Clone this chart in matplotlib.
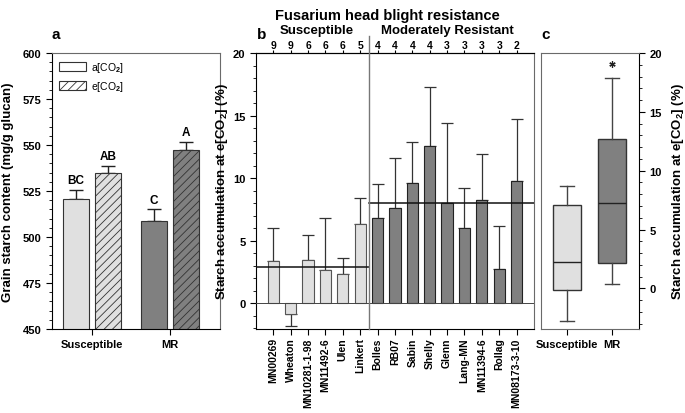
import numpy as np
import matplotlib
matplotlib.use("Agg")
import matplotlib.pyplot as plt
from matplotlib.ticker import MultipleLocator
from matplotlib.patches import Patch

plt.rcParams['font.family'] = ['Liberation Sans', 'DejaVu Sans']
plt.rcParams['font.weight'] = 'bold'
plt.rcParams['axes.labelweight'] = 'bold'
plt.rcParams['mathtext.fontset'] = 'custom'
plt.rcParams['mathtext.rm'] = 'Liberation Sans'
plt.rcParams['mathtext.bf'] = 'Liberation Sans:bold'
plt.rcParams['mathtext.default'] = 'bf'
plt.rcParams['hatch.linewidth'] = 0.6

# panel a: grain starch content
groups = ['Susceptible', 'MR']
starch_amb = [520.6, 508.9]
starch_amb_se = [4.9, 6.2]
starch_elev = [535.0, 547.4]
starch_elev_se = [3.7, 4.2]
letters_amb = ['BC', 'C']
letters_elev = ['AB', 'A']

# panel b: starch accumulation per cultivar
cultivars = ['MN00269', 'Wheaton', 'MN10281-1-98', 'MN11492-6', 'Ulen', 'Linkert',
             'Bolles', 'RB07', 'Sabin', 'Shelly', 'Glenn', 'Lang-MN', 'MN11394-6',
             'Rollag', 'MN08173-3-10']
accum = [3.4, -0.85, 3.45, 2.7, 2.35, 6.35,
         6.85, 7.65, 9.65, 12.55, 8.0, 6.0, 8.25, 2.75, 9.75]
accum_err = [2.65, 0.95, 2.0, 4.15, 1.3, 2.1,
             2.65, 3.95, 3.25, 4.75, 6.4, 3.2, 3.65, 3.45, 5.0]
n_obs = [9, 9, 6, 6, 6, 5, 4, 4, 4, 4, 3, 3, 3, 3, 2]
n_susc = 6
mean_susc = 2.92
mean_mr = 8.02

# panel c: box summary
box_names = ['Susceptible', 'MR']
box_med = [2.23, 7.25]
box_q1 = [-0.1, 2.14]
box_q3 = [7.1, 12.66]
box_lo = [-2.74, 0.37]
box_hi = [8.7, 17.9]
box_out = [[], [19.1]]

light = '#e0e0e0'
dark = '#808080'
frame = '#6a6a6a'

fig = plt.figure(figsize=(6.85, 4.14), dpi=100)
ax_a = fig.add_axes([0.0759, 0.2029, 0.2453, 0.6667])
ax_b = fig.add_axes([0.3737, 0.2029, 0.4058, 0.6667])
ax_c = fig.add_axes([0.7898, 0.2029, 0.1431, 0.6667])

# ---- panel a
x = np.arange(len(groups))
off, w = 0.205, 0.335
cols = [light, dark]
ax_a.errorbar(x - off, starch_amb, yerr=[np.zeros(2), starch_amb_se], fmt='none',
              ecolor='#222222', elinewidth=1, capsize=5, capthick=1, zorder=1)
ax_a.errorbar(x + off, starch_elev, yerr=[np.zeros(2), starch_elev_se], fmt='none',
              ecolor='#222222', elinewidth=1, capsize=5, capthick=1, zorder=1)
ax_a.bar(x - off, starch_amb, w, color=cols, edgecolor='#333333', linewidth=0.8, zorder=2)
ax_a.bar(x + off, starch_elev, w, color=cols, edgecolor='#333333', linewidth=0.8,
         hatch='////', zorder=2)
for i in range(len(groups)):
    ax_a.text(x[i] - off, starch_amb[i] + starch_amb_se[i] + 2, letters_amb[i],
              ha='center', va='bottom', fontsize=8.5)
    ax_a.text(x[i] + off, starch_elev[i] + starch_elev_se[i] + 2, letters_elev[i],
              ha='center', va='bottom', fontsize=8.5)
ax_a.set_xlim(-0.51, 1.64)
ax_a.set_ylim(450, 600)
ax_a.set_xticks(x, groups, fontsize=8)
ax_a.yaxis.set_major_locator(MultipleLocator(25))
ax_a.yaxis.set_minor_locator(MultipleLocator(5))
ax_a.tick_params(axis='y', labelsize=8)
ax_a.tick_params(which='major', length=4, width=0.8)
ax_a.tick_params(which='minor', length=2, width=0.6)
ax_a.set_ylabel('Grain starch content (mg/g glucan)', fontsize=9.5, labelpad=6)
for s in ['top', 'right']:
    ax_a.spines[s].set_color(frame)
leg_handles = [Patch(facecolor='white', edgecolor='#333333', linewidth=0.8),
               Patch(facecolor='white', edgecolor='#333333', linewidth=0.8, hatch='////')]
ax_a.legend(leg_handles, [r'a[CO$_{\mathrm{2}}$]', r'e[CO$_{\mathrm{2}}$]'],
            loc='upper left', frameon=False, handlelength=2.6, handleheight=0.9,
            prop={'weight': 'normal', 'size': 7.5}, borderaxespad=0.3,
            labelspacing=0.45, handletextpad=0.4)
ax_a.text(0.0, 1.045, 'a', transform=ax_a.transAxes, fontsize=11, va='bottom')

# ---- panel b
pos = np.arange(1, len(cultivars) + 1)
bar_cols = [light] * n_susc + [dark] * (len(cultivars) - n_susc)
edge_cols = ['#555555'] * n_susc + ['#222222'] * (len(cultivars) - n_susc)
acc = np.array(accum)
err = np.array(accum_err)
lower = np.where(acc < 0, err, 0)
upper = np.where(acc < 0, 0, err)
ax_b.errorbar(pos, acc, yerr=[lower, upper], fmt='none', ecolor='#333333',
              elinewidth=0.9, capsize=4, capthick=0.9, zorder=1)
ax_b.bar(pos, acc, 0.65, color=bar_cols, edgecolor=edge_cols, linewidth=0.8, zorder=2)
ax_b.axhline(0, color='#444444', lw=0.7, zorder=3)
split = n_susc + 0.5
ax_b.plot([0, split], [mean_susc, mean_susc], color='#111111', lw=1.1, zorder=4)
ax_b.plot([split, len(cultivars) + 1], [mean_mr, mean_mr], color='#111111', lw=1.1, zorder=4)
ax_b.axvline(split, ymin=0, ymax=1.06, color='#777777', lw=1.0, clip_on=False, zorder=4)
ax_b.set_xlim(0, len(cultivars) + 1)
ax_b.set_ylim(-2.05, 20)
ax_b.set_xticks(pos, cultivars, rotation=90, fontsize=7.5)
ax_b.tick_params(axis='x', pad=2)
ax_b.yaxis.set_major_locator(MultipleLocator(5))
ax_b.yaxis.set_minor_locator(MultipleLocator(1))
ax_b.tick_params(axis='y', labelsize=8)
ax_b.tick_params(which='major', length=4, width=0.8)
ax_b.tick_params(which='minor', length=2, width=0.6)
ax_b.spines['right'].set_color(frame)
ax_b.set_ylabel(r'Starch accumulation at e[CO$_2$] (%)', fontsize=9.5, labelpad=2)
top = ax_b.secondary_xaxis('top')
top.set_xticks(pos, [str(n) for n in n_obs], fontsize=7.5)
top.tick_params(length=2, width=0.8, pad=0.5)
ax_b.text((1 + n_susc) / 2, 1.085, 'Susceptible', transform=ax_b.get_xaxis_transform(),
          ha='center', va='center', fontsize=9.5)
ax_b.text((n_susc + 1 + len(cultivars)) / 2, 1.085, 'Moderately Resistant',
          transform=ax_b.get_xaxis_transform(), ha='center', va='center', fontsize=9.5)
ax_b.text(0.005, 1.045, 'b', transform=ax_b.transAxes, fontsize=11, va='bottom')

# ---- panel c
stats = []
for i in range(len(box_names)):
    stats.append(dict(med=box_med[i], q1=box_q1[i], q3=box_q3[i],
                      whislo=box_lo[i], whishi=box_hi[i], fliers=box_out[i]))
bp = ax_c.bxp(stats, positions=[1, 2], widths=0.62, patch_artist=True,
              medianprops=dict(color='#222222', lw=1),
              whiskerprops=dict(color='#444444', lw=1),
              capprops=dict(color='#444444', lw=1),
              boxprops=dict(edgecolor='#333333', lw=1),
              flierprops=dict(marker=(6, 2, 0), markersize=4.5, markeredgecolor='#222222',
                              markeredgewidth=0.9, markerfacecolor='#222222'),
              capwidths=0.3)
for patch, c in zip(bp['boxes'], [light, dark]):
    patch.set_facecolor(c)
ax_c.set_xlim(0.42, 2.6)
ax_c.set_ylim(-3.45, 20)
ax_c.set_xticks([1, 2], box_names, fontsize=8)
ax_c.yaxis.tick_right()
ax_c.yaxis.set_label_position('right')
ax_c.yaxis.set_major_locator(MultipleLocator(5))
ax_c.yaxis.set_minor_locator(MultipleLocator(1))
ax_c.tick_params(axis='y', labelsize=8)
ax_c.tick_params(which='major', length=4, width=0.8)
ax_c.tick_params(which='minor', length=2, width=0.6)
for s in ['top', 'left', 'bottom']:
    ax_c.spines[s].set_color(frame)
ax_c.set_ylabel(r'Starch accumulation at e[CO$_2$] (%)', fontsize=9.5, labelpad=6)
ax_c.text(0.0, 1.045, 'c', transform=ax_c.transAxes, fontsize=11, va='bottom')

fig.text(0.565, 0.962, 'Fusarium head blight resistance', ha='center', va='center',
         fontsize=10.5)

fig.savefig('out.png', dpi=100)
